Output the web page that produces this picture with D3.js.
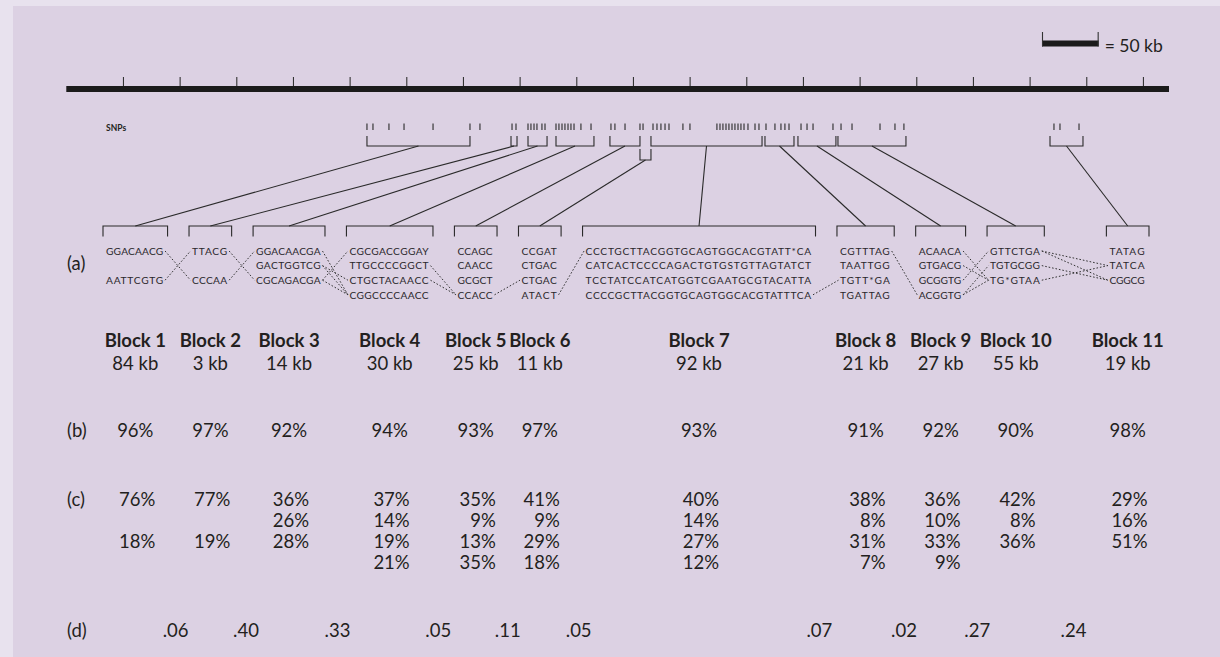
<!DOCTYPE html>
<html><head><meta charset="utf-8">
<script src="https://cdn.jsdelivr.net/npm/d3@7"></script>
<style>
html,body{margin:0;padding:0;background:#e8e2ee;}
svg{display:block;font-family:Lato,"Open Sans",sans-serif;}
</style>
</head><body>
<svg id="c" width="1220" height="657"></svg>
<script>
// ---------------- DATA ----------------
const axisTicksKb = d3.range(50, 951, 50);
const scaleBarKb = 50;
const snpKb = [265.3,270.6,284.7,298.0,323.6,356.2,365.0,393.3,396.8,407.4,410.0,412.7,415.3,419.7,422.4,
  432.1,434.7,437.4,440.0,442.7,445.3,448.0,454.1,463.0,480.6,484.1,493.0,506.2,508.9,517.7,521.2,524.7,
  528.3,531.8,544.1,550.3,574.1,576.8,579.4,582.1,584.7,587.4,590.0,592.7,595.3,598.0,601.5,607.7,611.2,
  617.4,625.3,630.6,634.1,637.7,648.3,653.6,658.9,676.5,683.6,693.3,718.0,731.2,739.1,871.5,876.8,893.6];
const blockNames = ["Block 1","Block 2","Block 3","Block 4","Block 5","Block 6","Block 7","Block 8","Block 9","Block 10","Block 11"];
const blockSizesKb = [84,3,14,30,25,11,92,21,27,55,19];
const blockSnpStartKb = [265.3,392.4,407.4,432.1,479.7,506.2,515.9,616.5,645.6,680.9,868.0];
const blockSnpEndKb   = [356.2,397.7,424.2,465.6,506.2,515.9,613.9,642.1,679.1,740.9,897.1];
const haplotypes = [
  ["GGACAACG", null, "AATTCGTG", null],
  ["TTACG", null, "CCCAA", null],
  ["GGACAACGA", "GACTGGTCG", "CGCAGACGA", null],
  ["CGCGACCGGAY", "TTGCCCCGGCT", "CTGCTACAACC", "CGGCCCCAACC"],
  ["CCAGC", "CAACC", "GCGCT", "CCACC"],
  ["CCGAT", "CTGAC", "CTGAC", "ATACT"],
  ["CCCTGCTTACGGTGCAGTGGCACGTATT*CA", "CATCACTCCCCAGACTGTGSTGTTAGTATCT", "TCCTATCCATCATGGTCGAATGCGTACATTA", "CCCCGCTTACGGTGCAGTGGCACGTATTTCA"],
  ["CGTTTAG", "TAATTGG", "TGTT*GA", "TGATTAG"],
  ["ACAACA", "GTGACG", "GCGGTG", "ACGGTG"],
  ["GTTCTGA", "TGTGCGG", "TG*GTAA", null],
  ["TATAG", "TATCA", "CGGCG", null]
];
// links between haplotypes of block i and block i+1: [fromRow, toRow]
const transitions = [
  [[0,2],[2,0]],
  [[0,2],[2,0]],
  [[0,3],[1,2],[1,3],[2,0],[2,3]],
  [[1,3],[2,3]],
  [[3,2]],
  [[3,0]],
  [[3,2]],
  [[0,3]],
  [[0,2],[1,2],[2,0],[3,1],[3,2]],
  [[0,1],[0,2],[1,2],[2,1]]
];
const pctB = [96,97,92,94,93,97,93,91,92,90,98];
const pctC = [
  [76,null,18,null],[77,null,19,null],[36,26,28,null],[37,14,19,21],[35,9,13,35],[41,9,29,18],
  [40,14,27,12],[38,8,31,7],[36,10,33,9],[42,8,36,null],[29,16,51,null]
];
const valD = [0.06,0.40,0.33,0.05,0.11,0.05,0.07,0.02,0.27,0.24];
const rowLabels = ["(a)","(b)","(c)","(d)"];

// ---------------- LAYOUT ----------------
const ink = "#231f20", lineInk = "#2a2a2a";
const svg = d3.select("#c");
svg.append("rect").attr("x",0).attr("y",0).attr("width",1220).attr("height",657).attr("fill","#e8e2ee");
svg.append("rect").attr("x",13).attr("y",6).attr("width",1207).attr("height",651).attr("fill","#dcd1e3");

const x = d3.scaleLinear().domain([0,973]).range([66.3,1169]);

// main axis
const axG = svg.append("g").attr("transform","translate(0,86)")
  .call(d3.axisTop(x).tickValues(axisTicksKb).tickSize(9).tickFormat(""));
axG.select(".domain").remove();
axG.selectAll(".tick line").attr("stroke","#333").attr("stroke-width",1.1);
svg.append("rect").attr("x",x(0)).attr("y",86).attr("width",x(973)-x(0)).attr("height",6).attr("fill","#1b1b1b");

// scale bar
const sbX = 1042, sbW = x(scaleBarKb)-x(0);
svg.append("rect").attr("x",sbX).attr("y",40.5).attr("width",sbW).attr("height",6).attr("fill","#1b1b1b");
svg.append("path").attr("d",`M${sbX+0.5},32V46.5M${sbX+sbW-0.5},32V46.5`).attr("stroke","#333").attr("stroke-width",1.1);
svg.append("text").attr("x",sbX+sbW+6).attr("y",52).attr("font-size",17.5).attr("fill",ink).text("= " + scaleBarKb + " kb");

// SNPs
svg.append("text").attr("x",106).attr("y",131).attr("font-size",8.5).attr("font-weight",700).attr("fill",ink).text("SNPs");
svg.append("g").selectAll("line").data(snpKb).join("line")
  .attr("x1",d=>x(d)).attr("x2",d=>x(d)).attr("y1",123.5).attr("y2",130)
  .attr("stroke","#2a2a2a").attr("stroke-width",1.1);

// haplotype columns (character-unit layout)
const nChars = haplotypes.map(h=>d3.max(h.filter(s=>s),s=>s.length));
const gapU = 3.75, bigGapU = 9.3;
let acc = 0; const colStartU = [], colEndU = [];
nChars.forEach((n,i)=>{ if(i>0) acc += (i===10?bigGapU:gapU); colStartU.push(acc); acc += n; colEndU.push(acc); });
const cx = d3.scaleLinear().domain([0,acc]).range([106,1146]);
const charW = cx(1)-cx(0);
const colS = colStartU.map(cx), colE = colEndU.map(cx);
const colC = colS.map((s,i)=>(s+colE[i])/2);

// SNP block brackets
const hang = i => i===5;
svg.append("g").selectAll("path").data(blockNames).join("path")
  .attr("d",(d,i)=>{
    const a=x(blockSnpStartKb[i]), b=x(blockSnpEndKb[i]);
    return hang(i) ? `M${a},149V160H${b}V149` : `M${a},136V146H${b}V136`;
  })
  .attr("fill","none").attr("stroke",lineInk).attr("stroke-width",1.1);
// connectors
svg.append("g").selectAll("line").data(blockNames).join("line")
  .attr("x1",(d,i)=>x((blockSnpStartKb[i]+blockSnpEndKb[i])/2))
  .attr("y1",(d,i)=>hang(i)?160:146)
  .attr("x2",(d,i)=>colC[i]).attr("y2",226)
  .attr("stroke",lineInk).attr("stroke-width",1.1);
// lower brackets
svg.append("g").selectAll("path").data(blockNames).join("path")
  .attr("d",(d,i)=>`M${colS[i]-3},236.5V226H${colE[i]+3}V236.5`)
  .attr("fill","none").attr("stroke",lineInk).attr("stroke-width",1.1);

// haplotype text
const rowC = [251,265.6,280.2,294.8];
const hapG = svg.append("g");
haplotypes.forEach((h,i)=>{
  h.forEach((s,r)=>{
    if(!s) return;
    hapG.append("text").attr("x",colS[i]).attr("y",rowC[r]+3.7)
      .attr("font-size",10.2).attr("fill","#2a272b")
      .attr("textLength",s.length*charW-1.4).attr("lengthAdjust","spacing")
      .text(s);
  });
});
// dotted links
const linkData = [];
transitions.forEach((t,i)=>t.forEach(([f,tt])=>{
  const endF = colS[i] + haplotypes[i][f].length*charW;
  linkData.push({x1:endF+0.5,y1:rowC[f],x2:colS[i+1]-1.5,y2:rowC[tt]});
}));
svg.append("g").selectAll("line").data(linkData).join("line")
  .attr("x1",d=>d.x1).attr("y1",d=>d.y1).attr("x2",d=>d.x2).attr("y2",d=>d.y2)
  .attr("stroke","#333").attr("stroke-width",1).attr("stroke-dasharray","1.6,1.9");

// row labels
const labY = [270,437,506,637];
svg.append("g").selectAll("text").data(rowLabels).join("text")
  .attr("x",67).attr("y",(d,i)=>labY[i]).attr("font-size",18.5).attr("fill",ink).text(d=>d);

// block names and sizes
svg.append("g").selectAll("text").data(blockNames).join("text")
  .attr("x",(d,i)=>colC[i]).attr("y",347).attr("text-anchor","middle")
  .attr("font-size",18.5).attr("font-weight",700).attr("fill",ink).text(d=>d);
svg.append("g").selectAll("text").data(blockSizesKb).join("text")
  .attr("x",(d,i)=>colC[i]).attr("y",370).attr("text-anchor","middle")
  .attr("font-size",18.5).attr("fill",ink).text(d=>d+" kb");
// (b)
svg.append("g").selectAll("text").data(pctB).join("text")
  .attr("x",(d,i)=>colC[i]).attr("y",437).attr("text-anchor","middle")
  .attr("font-size",18.5).attr("fill",ink).text(d=>d+"%");
// (c)
const cRowY = [506,527,548,569];
const cG = svg.append("g");
pctC.forEach((col,i)=>col.forEach((v,r)=>{
  if(v==null) return;
  cG.append("text").attr("x",colC[i]+20).attr("y",cRowY[r]).attr("text-anchor","end")
    .attr("font-size",18.5).attr("fill",ink).text(v+"%");
}));
// (d)
const fmtD = v => d3.format(".2f")(v).replace(/^0/,"");
svg.append("g").selectAll("text").data(valD).join("text")
  .attr("x",(d,i)=>{
    const gs = colE[i], ge = colS[i+1];
    const cm = Math.max(gs, Math.min(ge, (colC[i]+colC[i+1])/2));
    return ((gs+ge)/2 + cm)/2;
  })
  .attr("y",637).attr("text-anchor","middle").attr("font-size",18.5).attr("fill",ink).text(fmtD);
</script>
</body></html>
